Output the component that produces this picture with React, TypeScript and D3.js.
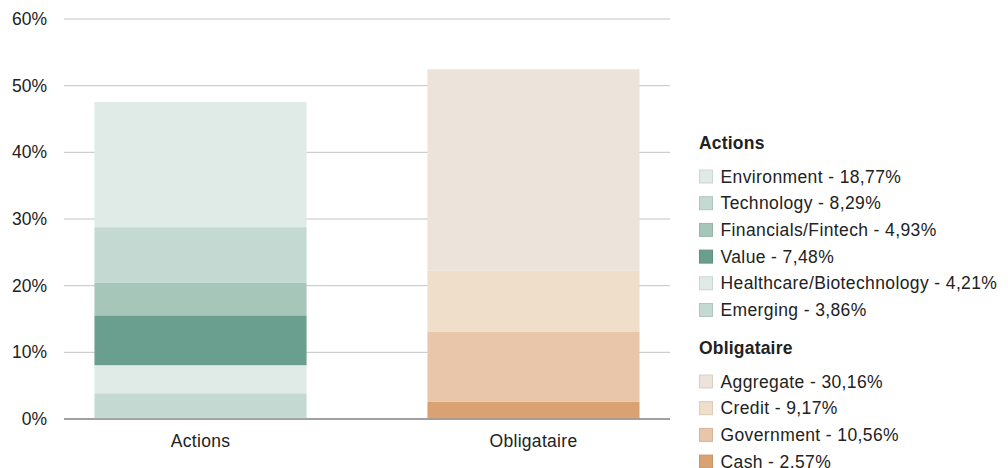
import React from "react";
import * as d3 from "d3";

// ---- data ----
const categories = ["Actions", "Obligataire"];

const actionsLabels = [
  "Environment",
  "Technology",
  "Financials/Fintech",
  "Value",
  "Healthcare/Biotechnology",
  "Emerging",
];
const actionsValues = [18.77, 8.29, 4.93, 7.48, 4.21, 3.86];
const actionsValueTexts = ["18,77", "8,29", "4,93", "7,48", "4,21", "3,86"];

const obligataireLabels = ["Aggregate", "Credit", "Government", "Cash"];
const obligataireValues = [30.16, 9.17, 10.56, 2.57];
const obligataireValueTexts = ["30,16", "9,17", "10,56", "2.57"];

const yTicks = [0, 10, 20, 30, 40, 50, 60];

// ---- styles ----
const actionsColors = ["#e0eae6", "#c3d9d1", "#a6c6ba", "#6a9e8f", "#e0eae6", "#c3d9d1"];
const obligataireColors = ["#ece3da", "#efdeca", "#e9c5a9", "#d9a273"];

const W = 1008;
const H = 468;
const FONT = "'Liberation Sans', Arial, Helvetica, sans-serif";
const FS = 17.5;

export default function App() {
  const plotLeft = 64;
  const plotRight = 670;
  const y = d3.scaleLinear().domain([0, 60]).range([419, 19]);
  const x = d3
    .scaleBand<string>()
    .domain(categories)
    .range([plotLeft, plotRight])
    .paddingInner(0.363)
    .paddingOuter(0.0915);

  const groups = [
    { name: categories[0], labels: actionsLabels, values: actionsValues, texts: actionsValueTexts, colors: actionsColors },
    { name: categories[1], labels: obligataireLabels, values: obligataireValues, texts: obligataireValueTexts, colors: obligataireColors },
  ];

  // stack bottom-up: last item of each list is at the bottom
  const segments = groups.flatMap((g) => {
    const order = d3.range(g.values.length).reverse();
    const cum = d3.cumsum(order.map((i) => g.values[i]));
    return order.map((i, k) => {
      const y0 = k === 0 ? 0 : cum[k - 1];
      const y1 = cum[k];
      return { key: g.name + i, cat: g.name, y0, y1, color: g.colors[i] };
    });
  });

  const legendX = 699;
  const rowH = 26.7;
  const legendBlocks = [
    { title: "Actions", titleY: 143, firstY: 176.5, g: groups[0] },
    { title: "Obligataire", titleY: 348, firstY: 381.5, g: groups[1] },
  ];

  return (
    <svg width={W} height={H} style={{ display: "block", position: "absolute", left: 0, top: 0 }} fontFamily={FONT}>
      <rect width={W} height={H} fill="#ffffff" />
      {/* gridlines */}
      {yTicks.map((t) => (
        <line
          key={t}
          x1={plotLeft}
          x2={plotRight}
          y1={y(t)}
          y2={y(t)}
          stroke={t === 0 ? "#9a9a9a" : "#c4c4c4"}
          strokeWidth={t === 0 ? 1.5 : 1}
        />
      ))}
      {/* bars */}
      {segments.map((s) => (
        <rect
          key={s.key}
          x={x(s.cat)}
          width={x.bandwidth()}
          y={y(s.y1)}
          height={y(s.y0) - y(s.y1)}
          fill={s.color}
        />
      ))}
      {/* baseline on top */}
      <line x1={plotLeft} x2={plotRight} y1={y(0)} y2={y(0)} stroke="#9a9a9a" strokeWidth={1.5} />
      {/* y labels */}
      {yTicks.map((t) => (
        <text key={t} x={47} y={y(t)} dy="0.35em" textAnchor="end" fontSize={FS} fill="#222">
          {t}%
        </text>
      ))}
      {/* x labels */}
      {categories.map((c) => (
        <text
          key={c}
          x={(x(c) as number) + x.bandwidth() / 2}
          y={441}
          dy="0.35em"
          textAnchor="middle"
          fontSize={FS}
          letterSpacing={0.3}
          fill="#222"
        >
          {c}
        </text>
      ))}
      {/* legend */}
      {legendBlocks.map((b) => (
        <g key={b.title}>
          <text x={legendX} y={b.titleY} dy="0.35em" fontSize={FS} fontWeight="bold" letterSpacing={0.2} fill="#222">
            {b.title}
          </text>
          {b.g.labels.map((l, i) => {
            const cy = b.firstY + i * rowH;
            return (
              <g key={l}>
                <rect
                  x={legendX + 0.5}
                  y={cy - 6.5}
                  width={13}
                  height={13}
                  fill={b.g.colors[i]}
                  stroke={d3.color(b.g.colors[i])!.darker(0.25).toString()}
                  strokeWidth={1}
                />
                <text x={720.5} y={cy} dy="0.35em" fontSize={FS} letterSpacing={0.38} fill="#222">
                  {l} - {b.g.texts[i]}%
                </text>
              </g>
            );
          })}
        </g>
      ))}
    </svg>
  );
}
